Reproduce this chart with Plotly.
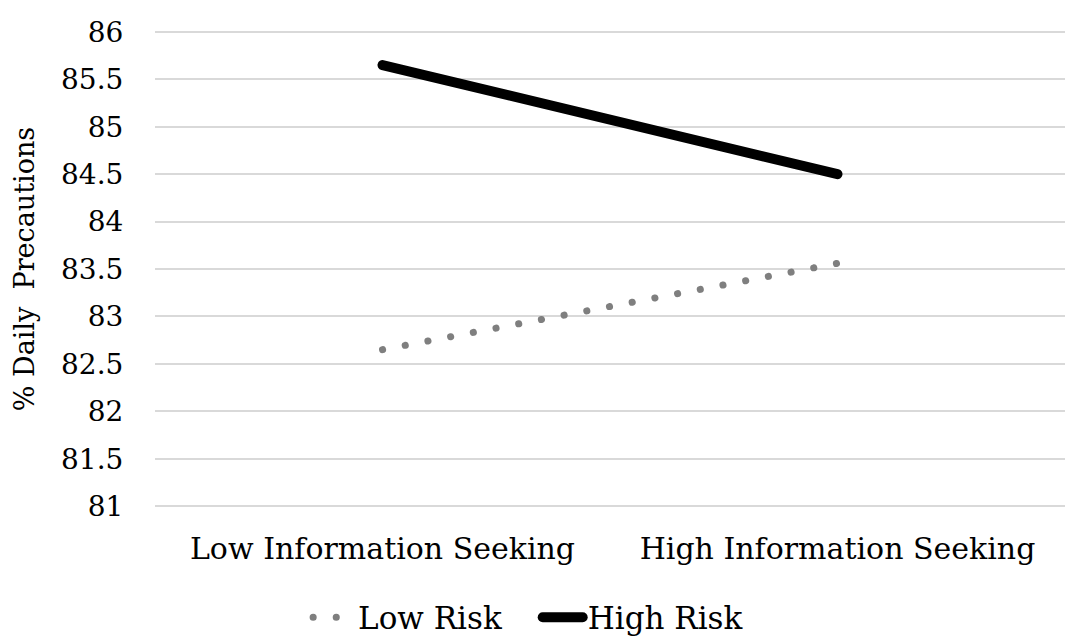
import plotly.graph_objects as go

categories = ["Low Information Seeking", "High Information Seeking"]
low_risk = [82.65, 83.56]
high_risk = [85.65, 84.5]
y_ticks = [81, 81.5, 82, 82.5, 83, 83.5, 84, 84.5, 85, 85.5, 86]
y_tick_labels = ["81", "81.5", "82", "82.5", "83", "83.5", "84", "84.5", "85", "85.5", "86"]
series_names = ["Low Risk", "High Risk"]

FONT = "DejaVu Serif"

fig = go.Figure()
fig.add_trace(go.Scatter(
    x=categories, y=low_risk, mode="lines", name=series_names[0] + "\u2003",
    line=dict(color="#7f7f7f", width=7, dash="0.1px,23px"),
))
fig.add_trace(go.Scatter(
    x=categories, y=high_risk, mode="lines", name=series_names[1],
    line=dict(color="#000000", width=10),
))

fig.update_layout(
    width=1065, height=637,
    margin=dict(l=155, r=0, t=29, b=128, autoexpand=False),
    paper_bgcolor="white", plot_bgcolor="white",
    font=dict(family=FONT, color="#000000"),
    showlegend=True,
    legend=dict(
        orientation="h", x=0.41, xanchor="center", y=-0.17, yanchor="top",
        font=dict(size=31, family=FONT), itemwidth=40, traceorder="normal",
    ),
)
fig.update_xaxes(
    type="category", range=[-0.5, 1.5], automargin=False, tickangle=0,
    showgrid=False, zeroline=False, showline=False,
    ticks="outside", ticklen=13, tickcolor="rgba(0,0,0,0)",
    tickfont=dict(size=30, family=FONT),
)
fig.update_yaxes(
    range=[80.97, 86.03], tickvals=y_ticks, ticktext=y_tick_labels, automargin=False,
    showgrid=True, gridcolor="#d9d9d9", gridwidth=1.5,
    zeroline=False, showline=False,
    ticks="outside", ticklen=25, tickcolor="rgba(0,0,0,0)",
    tickfont=dict(size=28, family=FONT),
    title=dict(text="% Daily  Precautions", font=dict(size=27, family=FONT), standoff=18),
)

post = """
document.body.style.margin = '0';
document.documentElement.style.margin = '0';
document.querySelectorAll('.js-line, .legendlines path').forEach(function(p){
  p.style.strokeLinecap = 'round';
});
"""
fig.write_html("out.html", post_script=post, config={"displayModeBar": False})
